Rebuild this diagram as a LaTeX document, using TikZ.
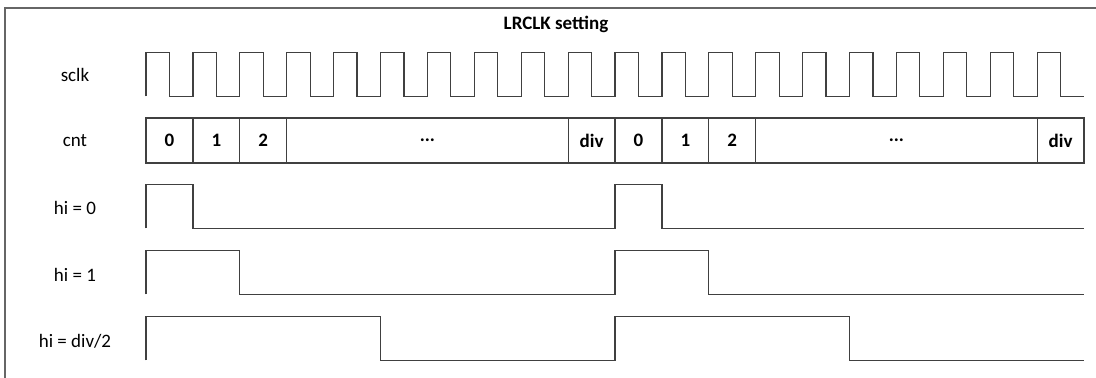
\documentclass[tikz,border=0pt]{standalone}
\usepackage{fontspec}
\setmainfont{Carlito}
\usepackage{tikz}
\usetikzlibrary{positioning}

\tikzset{
    wave/.style={line width=0.6pt, draw=black!75},
    lbl/.style={font=\fontsize{9.5}{11}\selectfont},
    cell/.style={draw=black!75, line width=0.6pt, minimum height=22.5pt,
        minimum width=#1*23.45pt, inner sep=0pt, outer sep=0pt,
        font=\fontsize{9.5}{11}\selectfont\bfseries},
}

\begin{document}
\begin{tikzpicture}[x=0.5pt, y=-0.5pt]
    \useasboundingbox (0,0) rectangle (1096,378);
    % Frame and title
    \draw[black!60, line width=0.6pt] (5,378) -- (5,8) -- (1096,8);
    \node[font=\fontsize{9.5}{11}\selectfont\bfseries] (title) at (556,24) {LRCLK setting};

    % Row labels
    \node[lbl] (sclk) at (75,75) {sclk};
    \node[lbl] (cnt) at (75,141) {cnt};
    \node[lbl] (hia) at (75,208) {hi = 0};
    \node[lbl] (hib) at (75,275) {hi = 1};
    \node[lbl] (hic) at (75,341) {hi = div/2};

    % sclk - 20 periods
    \draw[wave] (146,96.5) \foreach \k in {0,...,19}
        {-- ++(0,-44) -- ++(23.45,0) -- ++(0,44) -- ++(23.45,0)};

    % cnt - two frames of 0 .. div
    \node[cell=1, anchor=west] (c0) at (146,140.5) {0};
    \node[cell=1, right=0pt of c0] (c1) {1};
    \node[cell=1, right=0pt of c1] (c2) {2};
    \node[cell=6, right=0pt of c2] (cdots) {...};
    \node[cell=1, right=0pt of cdots] (cdiv) {div};
    \node[cell=1, right=0pt of cdiv] (d0) {0};
    \node[cell=1, right=0pt of d0] (d1) {1};
    \node[cell=1, right=0pt of d1] (d2) {2};
    \node[cell=6, right=0pt of d2] (ddots) {...};
    \node[cell=1, right=0pt of ddots] (ddiv) {div};

    % LRCLK for hi = 0, 1, div/2
    \foreach \y/\w in {206.5/1, 272.5/2, 338.5/5}
        \draw[wave] (146,\y+22) -- ++(0,-44) -- ++(\w*46.9,0) -- ++(0,44)
            -- (615,\y+22) -- ++(0,-44) -- ++(\w*46.9,0) -- ++(0,44) -- (1084,\y+22);
\end{tikzpicture}
\end{document}
